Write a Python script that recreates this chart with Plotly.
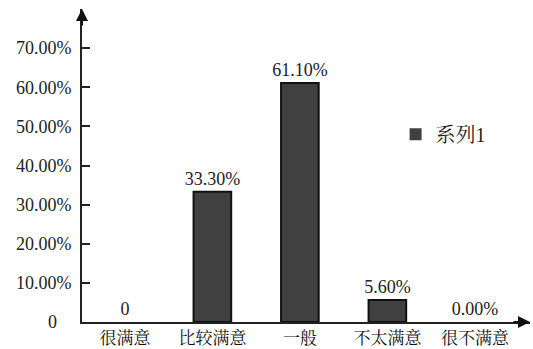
import plotly.graph_objects as go

categories = ["很满意", "比较满意", "一般", "不太满意", "很不满意"]
values = [0.0, 0.333, 0.611, 0.056, 0.0]
value_labels = ["0", "33.30%", "61.10%", "5.60%", "0.00%"]
series_name = "系列1"
tick_vals = [0.1, 0.2, 0.3, 0.4, 0.5, 0.6, 0.7]
tick_text = ["10.00%", "20.00%", "30.00%", "40.00%", "50.00%", "60.00%", "70.00%"]

serif = "Liberation Serif, Times New Roman, Noto Serif CJK SC, Noto Sans CJK SC, serif"

# no outline on empty bars
outline = [2 if v > 0 else 0 for v in values]

fig = go.Figure()
fig.add_trace(go.Bar(
    x=categories,
    y=values,
    name=series_name,
    text=value_labels,
    textposition="outside",
    constraintext="none",
    cliponaxis=False,
    textfont=dict(family=serif, size=18, color="#222"),
    marker=dict(color="#404040", line=dict(color="#111", width=outline)),
    width=0.43,
    showlegend=True,
))

fig.update_layout(
    width=533, height=349,
    margin=dict(l=82, r=3, t=9, b=27),
    paper_bgcolor="white", plot_bgcolor="white",
    font=dict(family=serif, size=18, color="#222"),
    showlegend=True,
    legend=dict(
        x=0.70, y=0.60, xanchor="left", yanchor="middle",
        bgcolor="rgba(0,0,0,0)", font=dict(size=20, color="#222"),
        itemwidth=30,
    ),
    xaxis=dict(
        range=[-0.49, 4.63],
        showline=True, linecolor="#222", linewidth=2,
        showgrid=False, ticks="", zeroline=False,
        tickfont=dict(size=17, color="#111"),
        ticklabelstandoff=0,
        automargin=False,
        fixedrange=True,
    ),
    yaxis=dict(
        range=[0, 0.80],
        showline=True, linecolor="#222", linewidth=2,
        showgrid=False, zeroline=False,
        ticks="inside", ticklen=8, tickwidth=2, tickcolor="#222",
        tickvals=tick_vals, ticktext=tick_text,
        tickfont=dict(size=18, color="#222"),
        ticklabelstandoff=5,
        automargin=False,
        fixedrange=True,
    ),
)

# axis origin label and arrowheads
fig.add_annotation(xref="paper", yref="y", x=-30 / 448, y=0, text="0",
                   showarrow=False, xanchor="center", yanchor="middle",
                   font=dict(size=18, color="#222"))
fig.add_annotation(xref="paper", yref="paper", x=0, y=1.0, ax=0, ay=18,
                   text="", showarrow=True, arrowhead=2, arrowsize=1.2,
                   arrowwidth=2, arrowcolor="#111")
fig.add_annotation(xref="paper", yref="paper", x=1.0, y=0, ax=-18, ay=0,
                   text="", showarrow=True, arrowhead=2, arrowsize=1.2,
                   arrowwidth=2, arrowcolor="#111")

fig.write_html("out.html")
